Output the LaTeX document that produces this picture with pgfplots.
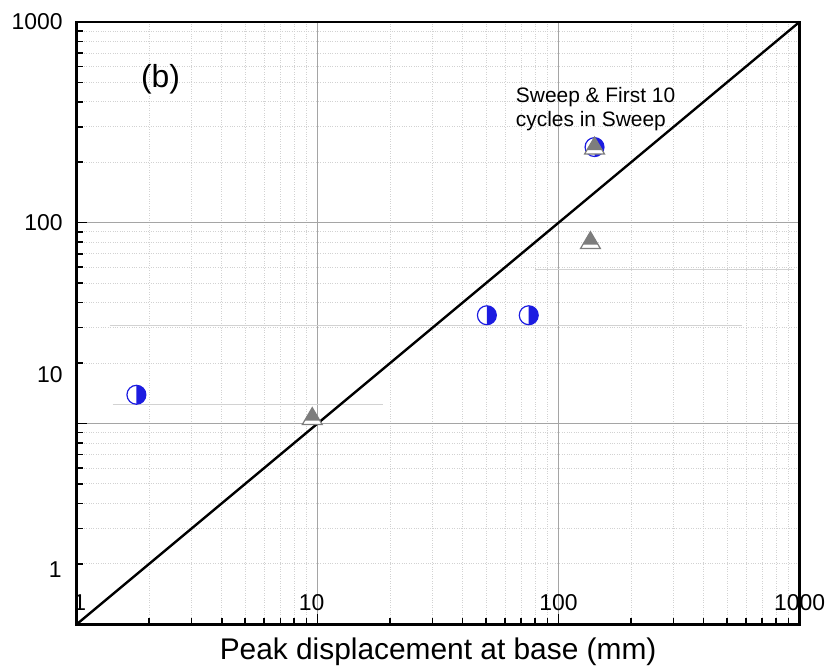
\documentclass[border=0pt]{standalone}
\usepackage{fontspec}
\setmainfont{Liberation Sans}
\usepackage{pgfplots}
\pgfplotsset{compat=1.18}

\definecolor{cblue}{RGB}{28,28,225}
\definecolor{tgray}{RGB}{125,125,125}
\definecolor{gmaj}{RGB}{165,165,165}
\definecolor{gmin}{RGB}{210,210,210}

% half-filled circle: right half blue
\pgfdeclareplotmark{hcirc}{%
  \pgfpathcircle{\pgfpointorigin}{9.5pt}%
  \pgfsetfillcolor{white}\pgfusepath{fill}%
  \pgfpathmoveto{\pgfqpoint{0pt}{9.5pt}}%
  \pgfpatharc{90}{-90}{9.5pt}%
  \pgfpathclose
  \pgfsetfillcolor{cblue}\pgfusepath{fill}%
  \pgfpathcircle{\pgfpointorigin}{9.5pt}%
  \pgfusepath{stroke}%
}
% half-filled triangle: upper part gray
\pgfdeclareplotmark{htri}{%
  \pgfpathmoveto{\pgfqpoint{0pt}{10pt}}%
  \pgfpathlineto{\pgfqpoint{-10pt}{-7pt}}%
  \pgfpathlineto{\pgfqpoint{10pt}{-7pt}}%
  \pgfpathclose
  \pgfsetfillcolor{white}\pgfusepath{fill}%
  \pgfpathmoveto{\pgfqpoint{0pt}{10pt}}%
  \pgfpathlineto{\pgfqpoint{-7.6pt}{-3pt}}%
  \pgfpathlineto{\pgfqpoint{7.6pt}{-3pt}}%
  \pgfpathclose
  \pgfsetfillcolor{tgray}\pgfusepath{fill}%
  \pgfpathmoveto{\pgfqpoint{0pt}{10pt}}%
  \pgfpathlineto{\pgfqpoint{-10pt}{-7pt}}%
  \pgfpathlineto{\pgfqpoint{10pt}{-7pt}}%
  \pgfpathclose
  \pgfusepath{stroke}%
}

\begin{document}
\begin{tikzpicture}
\begin{axis}[
  at={(0,0)}, anchor=south west,
  xmode=log, ymode=log,
  xmin=1, xmax=1000, ymin=1, ymax=1000,
  scale only axis, width=726pt, height=605pt,
  axis line style={line width=2.6pt},
  xtick pos=bottom, ytick pos=left, tick align=inside,
  xticklabels={}, yticklabels={},
  ticklabel style={text opacity=0},
  major tick length=10pt, minor tick length=6pt,
  tick style={black, line width=1.6pt},
  grid=both,
  major grid style={gmaj, line width=0.9pt},
  minor grid style={gmin, dotted, line width=0.9pt},
  clip=false,
  font=\fontsize{23}{27}\selectfont,
]
  % faint leftover lines
  \addplot[gmin, line width=0.9pt] coordinates {(1.37,30.9) (576,30.9)};
  \addplot[gmin, line width=0.9pt] coordinates {(79.6,58.5) (944,58.5)};
  \addplot[gmin, line width=0.9pt] coordinates {(1.41,12.4) (18.7,12.4)};

  % 1:1 line
  \addplot[black, line width=2.4pt] coordinates {(1,1) (1000,1000)};

  % circles
  \addplot[only marks, mark=hcirc, mark options={draw=cblue, line width=1.2pt}]
    coordinates {(1.77,13.9) (50.4,34.6) (75.2,34.6) (141,238)};
  % triangles
  \addplot[only marks, mark=htri, mark options={draw=tgray, line width=1.2pt}]
    coordinates {(9.5,10.7) (135.6,80.5) (141,238)};

  % tick labels (placed as in the original)
  \node[anchor=east, inner sep=0pt] at ([xshift=-14pt]axis cs:1,1000) {1000};
  \node[anchor=east, inner sep=0pt] at ([xshift=-14pt]axis cs:1,100) {100};
  \node[anchor=east, inner sep=0pt] at ([xshift=-14pt]axis cs:1,17.5) {10};
  \node[anchor=east, inner sep=0pt] at ([xshift=-15pt]axis cs:1,1.87) {1};
  \node[inner sep=0pt] at ([xshift=3pt, yshift=22pt]axis cs:1,1) {1};
  \node[inner sep=0pt] at ([xshift=-6pt, yshift=22pt]axis cs:10,1) {10};
  \node[inner sep=0pt] at ([yshift=22pt]axis cs:100,1) {100};
  \node[inner sep=0pt] at ([yshift=22pt]axis cs:1000,1) {1000};

  \node[inner sep=0pt, font=\fontsize{32}{36}\selectfont] at (rel axis cs:0.116,0.904) {(b)};
  \node[anchor=base west, inner sep=0pt, font=\fontsize{21}{25}\selectfont]
    at ([xshift=441pt, yshift=524pt]rel axis cs:0,0) {Sweep \& First 10};
  \node[anchor=base west, inner sep=0pt, font=\fontsize{21}{25}\selectfont]
    at ([xshift=441pt, yshift=500pt]rel axis cs:0,0) {cycles in Sweep};
  \node[anchor=base, inner sep=0pt, font=\fontsize{30}{34}\selectfont]
    at ([yshift=-35pt]rel axis cs:0.5,0) {Peak displacement at base (mm)};
\end{axis}
\path (-77pt,-42pt) rectangle (748pt,627pt);
\end{tikzpicture}
\end{document}
